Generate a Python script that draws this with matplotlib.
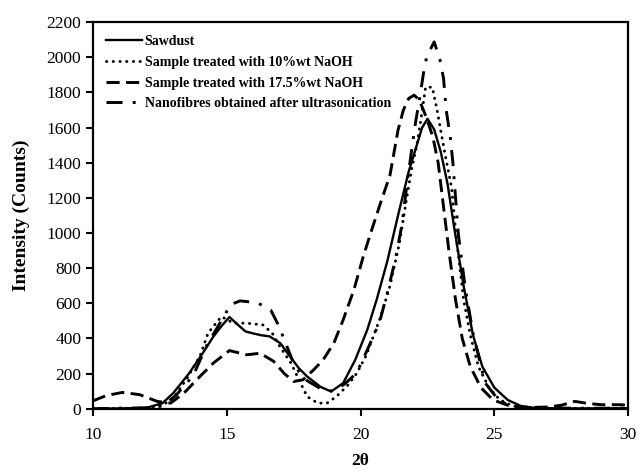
import matplotlib
matplotlib.use("Agg")
import matplotlib.pyplot as plt

plt.rcParams['font.family'] = ['Liberation Serif', 'DejaVu Serif']

# ---- data ----
saw_x = [10, 11, 12, 12.6, 13, 13.6, 14.1, 14.5, 14.8, 15.1, 15.4, 15.7, 16.0, 16.3, 16.6, 17.0,
         17.35, 17.7, 18.0, 18.5, 18.9, 19.35, 19.8, 20.25, 20.6, 21.0, 21.4, 21.8, 22.1, 22.3,
         22.5, 22.75, 23.0, 23.25, 23.5, 23.85, 24.2, 24.55, 25.0, 25.5, 26.0, 26.5, 27, 28, 30]
saw_y = [0, 2, 5, 32, 89, 203, 316, 411, 470, 522, 480, 440, 428, 418, 412, 373,
         300, 230, 184, 125, 98, 146, 278, 449, 620, 840, 1100, 1350, 1500, 1600,
         1650, 1590, 1460, 1280, 1030, 700, 420, 240, 120, 50, 15, 5, 3, 2, 3]

n10_x = [10, 11, 12, 12.6, 13, 13.5, 14, 14.3, 14.8, 15.25, 15.75, 16.35, 16.7, 17.0, 17.4,
         17.7, 18.0, 18.4, 18.75, 19.1, 19.5, 19.85, 20.2, 20.75, 21.1, 21.45, 21.65, 21.9,
         22.1, 22.25, 22.43, 22.68, 22.86, 23.0, 23.2, 23.4, 23.56, 23.85, 24.1, 24.4, 24.8,
         25.2, 25.7, 26.2, 27, 28, 30]
n10_y = [0, 2, 5, 20, 60, 170, 300, 430, 525, 487, 487, 477, 430, 350, 260,
         165, 70, 32, 32, 70, 130, 200, 300, 523, 700, 940, 1130, 1360,
         1500, 1640, 1830, 1830, 1700, 1580, 1415, 1260, 1000, 620, 420, 241, 120,
         51, 15, 5, 3, 2, 3]

n175_x = [10, 10.5, 11.1, 11.75, 12.4, 12.9, 13.4, 14.0, 14.5, 15.1, 15.75, 16.25, 16.75,
          17.15, 17.5, 17.85, 18.25, 18.6, 19.0, 19.35, 19.75, 20.1, 20.4, 20.7, 21.1, 21.4,
          21.6, 21.8, 22.0, 22.2, 22.45, 22.7, 22.9, 23.1, 23.3, 23.55, 23.8, 24.1, 24.5,
          24.95, 25.5, 26.0, 26.5, 27.0, 27.5, 28.0, 28.5, 29.0, 29.7, 30]
n175_y = [45, 75, 93, 80, 42, 32, 89, 184, 260, 331, 307, 316, 270,
          200, 155, 165, 222, 278, 373, 506, 676, 866, 1010, 1150, 1330, 1586,
          1700, 1766, 1785, 1756, 1661, 1548, 1400, 1150, 900, 620, 400, 240, 120,
          50, 20, 10, 8, 10, 20, 42, 30, 23, 23, 20]

nano_x = [10, 11, 12, 12.6, 13.1, 13.75, 14.25, 14.95, 15.12, 15.5, 16.15, 16.65, 16.95, 17.25,
          17.45, 17.7, 18.0, 18.5, 18.95, 19.4, 19.85, 20.2, 20.7, 21.0, 21.3, 21.55, 21.75,
          22.05, 22.22, 22.35, 22.47, 22.75, 22.97, 23.1, 23.2, 23.35, 23.45, 23.65, 23.9,
          24.2, 24.65, 25.1, 25.5, 26, 27, 28, 30]
nano_y = [0, 3, 5, 15, 76, 190, 360, 540, 591, 614, 603, 560, 470, 354,
          278, 210, 160, 115, 100, 140, 203, 318, 488, 659, 850, 1050, 1300,
          1625, 1780, 1908, 2003, 2088, 1984, 1880, 1700, 1550, 1400, 1000, 700,
          430, 148, 60, 20, 8, 5, 3, 3]

labels = ["Sawdust", "Sample treated with 10%wt NaOH",
          "Sample treated with 17.5%wt NaOH", "Nanofibres obtained after ultrasonication"]
x_ticks = [10, 15, 20, 25, 30]
y_ticks = list(range(0, 2201, 200))

fig = plt.figure(figsize=(6.41, 4.72), dpi=100)
ax = fig.add_axes([0.145, 0.134, 0.835, 0.819])

lw = 1.7
ax.plot(saw_x, saw_y, color='black', lw=lw, linestyle='-', label=labels[0])
ax.plot(n10_x, n10_y, color='black', lw=lw + 0.4, linestyle=(0, (0.1, 2.2)),
        dash_capstyle='round', label=labels[1])
ax.plot(n175_x, n175_y, color='black', lw=lw + 0.4, linestyle=(0, (4.5, 2.2)), label=labels[2])
ax.plot(nano_x, nano_y, color='black', lw=lw + 0.4, linestyle=(0, (5.5, 3.5, 1, 3.5)),
        label=labels[3])

ax.set_xlim(10, 30)
ax.set_ylim(0, 2200)
ax.set_xticks(x_ticks)
ax.set_yticks(y_ticks)
ax.tick_params(axis='both', direction='out', length=5, width=1.5, labelsize=12.5, colors='black')
ax.tick_params(axis='x', pad=8)
for s in ax.spines.values():
    s.set_linewidth(1.6)

ax.set_xlabel("2θ", fontsize=12.5, fontweight='bold', labelpad=7)
ax.set_ylabel("Intensity (Counts)", fontsize=14, fontweight='bold', labelpad=12)

leg = ax.legend(loc='upper left', bbox_to_anchor=(0.0, 1.0), frameon=False,
                prop={'family': 'Liberation Serif', 'weight': 'bold', 'size': 10},
                handlelength=2.6, handletextpad=0.2, labelspacing=0.56,
                borderaxespad=0.62, borderpad=0.3)

fig.savefig("out.png", dpi=100)
